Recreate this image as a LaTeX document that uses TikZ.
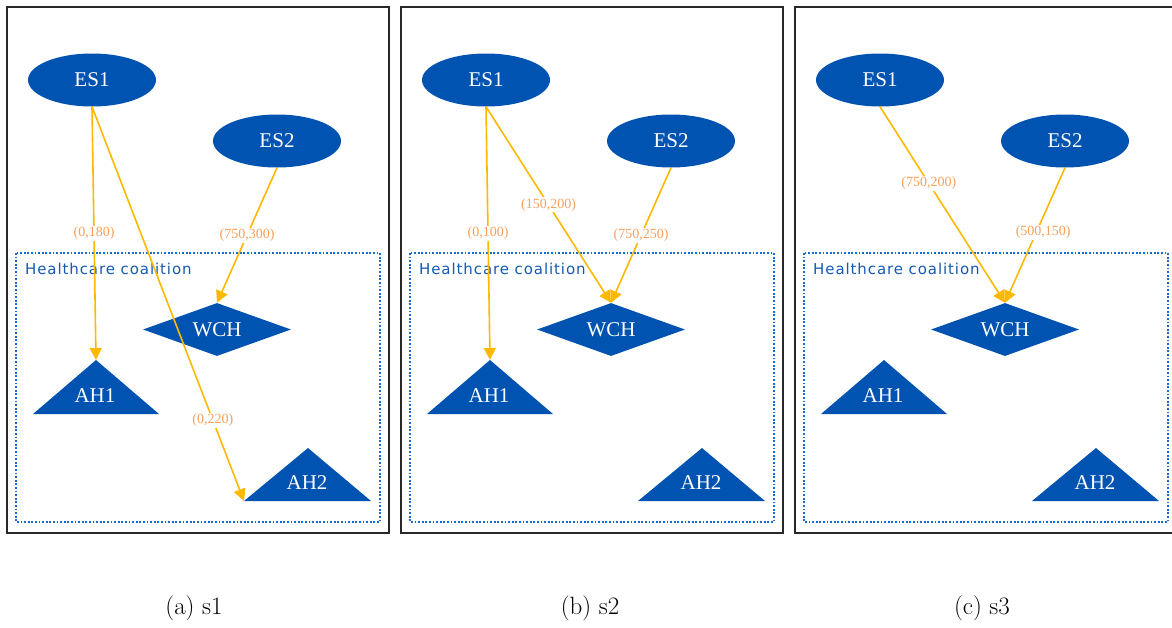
\documentclass[tikz,border=0pt]{standalone}
\usepackage{fontspec}
\newfontfamily\tnr{Liberation Serif}
\newfontfamily\dvs{DejaVu Sans}[LetterSpace=6]
\usetikzlibrary{shapes.geometric,arrows.meta}
\definecolor{nodeblue}{RGB}{0,83,176}
\definecolor{boxblue}{RGB}{25,105,205}
\definecolor{coaltext}{RGB}{20,90,180}
\definecolor{edgeamber}{RGB}{255,184,0}
\definecolor{lblorange}{RGB}{250,160,90}
\definecolor{framegray}{RGB}{40,40,40}
\tikzset{
  esnode/.style={ellipse, fill=nodeblue, text=white, minimum width=128pt, minimum height=53pt, inner sep=0pt, font=\tnr\fontsize{21}{25}\selectfont},
  wchnode/.style={diamond, fill=nodeblue, text=white, aspect=2.8, minimum width=148pt, minimum height=53pt, inner sep=0pt, font=\tnr\fontsize{21}{25}\selectfont},
  tritext/.style={text=white, inner sep=0pt, font=\tnr\fontsize{21}{25}\selectfont},
  trifill/.style={fill=nodeblue},
  panelframe/.style={draw=framegray, line width=1.6pt},
  coalbox/.style={draw=boxblue, line width=1.8pt, dash pattern=on 1.8pt off 1.8pt},
  coallabel/.style={text=coaltext, inner sep=0pt, anchor=base west, font=\dvs\fontsize{15}{18}\selectfont},
  flow/.style={draw=edgeamber, line width=1.6pt, -{Triangle[length=12pt,width=12pt]}},
  flowlbl/.style={fill=white, text=lblorange, inner sep=1pt, font=\tnr\fontsize{14}{16}\selectfont},
  captxt/.style={inner sep=0pt, font=\fontsize{25}{29}\selectfont},
}
\newcommand\mypanel[2]{%
  \begin{scope}[xshift=#2pt]
    \draw[panelframe] (7,7) rectangle (389,533);
    \draw[coalbox] (16,253) rectangle (380,522);
    \node[coallabel] (HC#1) at (25,274) {Healthcare coalition};
    \node[esnode] (ES1#1) at (92,80) {ES1};
    \node[esnode] (ES2#1) at (277,141) {ES2};
    \node[wchnode] (WCH#1) at (217,329.5) {WCH};
    \fill[trifill] (96,360) coordinate (AH1top#1) -- (159,414) -- (33,414) coordinate (AH1left#1) -- cycle;
    \node[tritext] (AH1#1) at (95,396) {AH1};
    \fill[trifill] (308,448) coordinate (AH2top#1) -- (371,501) -- (244,501) coordinate (AH2left#1) -- cycle;
    \node[tritext] (AH2#1) at (307,483) {AH2};
  \end{scope}}
\begin{document}
\begin{tikzpicture}[x=1pt,y=-1pt]
  \useasboundingbox (0,0) rectangle (1172,627);
  \mypanel{a}{0}
  \mypanel{b}{394}
  \mypanel{c}{788}
  % panel (a)
  \draw[flow] (ES1a.south) -- node[flowlbl]{(0,180)} (AH1topa);
  \draw[flow] (ES1a.south) -- node[flowlbl,pos=0.795]{(0,220)} (AH2lefta);
  \draw[flow] (ES2a.south) -- node[flowlbl]{(750,300)} (WCHa.north);
  % panel (b)
  \draw[flow] (ES1b.south) -- node[flowlbl]{(0,100)} (AH1topb);
  \draw[flow] (ES1b.south) -- node[flowlbl]{(150,200)} (WCHb.north);
  \draw[flow] (ES2b.south) -- node[flowlbl]{(750,250)} (WCHb.north);
  % panel (c)
  \draw[flow] (ES1c.south) -- node[flowlbl,pos=0.39]{(750,200)} (WCHc.north);
  \draw[flow] (ES2c.south) -- node[flowlbl,pos=0.48,xshift=7pt]{(500,150)} (WCHc.north);
  % captions
  \node[captxt] (capa) at (194,608) {(a) s1};
  \node[captxt] (capb) at (590,608) {(b) s2};
  \node[captxt] (capc) at (982,608) {(c) s3};
\end{tikzpicture}
\end{document}
